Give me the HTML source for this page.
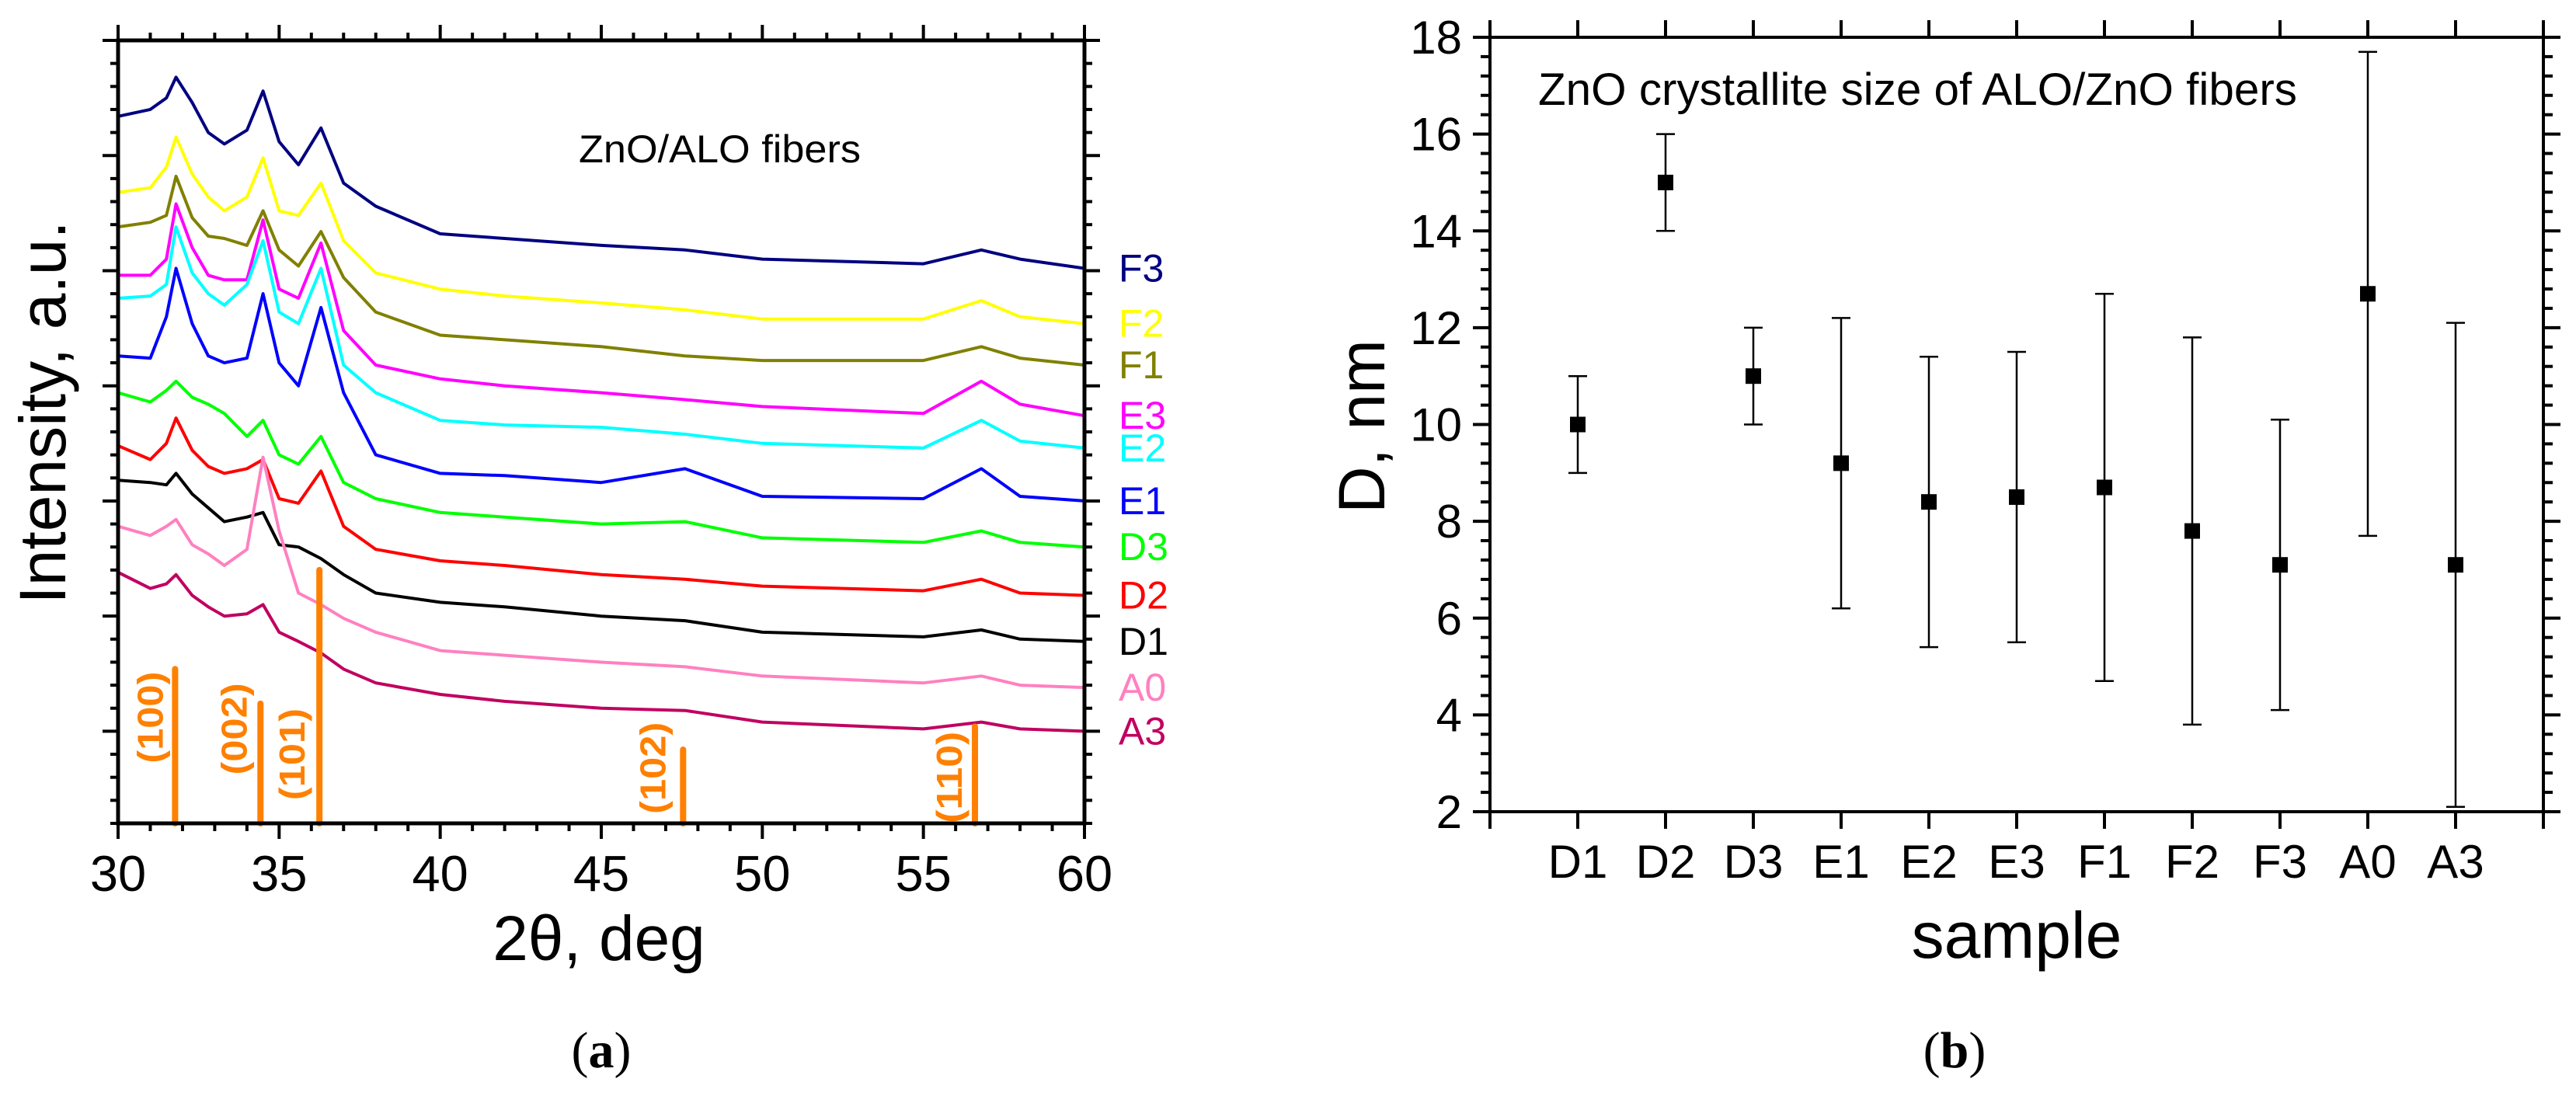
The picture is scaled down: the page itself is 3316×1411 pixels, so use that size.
<!DOCTYPE html>
<html><head><meta charset="utf-8"><style>
html,body{margin:0;padding:0;background:#fff;}
svg{display:block;font-family:"Liberation Sans",Arial,sans-serif;}
</style></head><body>
<svg id="root" width="3316" height="1411" viewBox="0 0 3316 1411" xmlns="http://www.w3.org/2000/svg">
<g id="chartA"></g>
<g id="chartB"></g>
</svg>
<script>
// ---------- Chart (a) data ----------
const sampleNames = ["F3","F2","F1","E3","E2","E1","D3","D2","D1","A0","A3"];
const sampleColors = ["#000080","#ffff00","#808000","#ff00ff","#00ffff","#0000ff","#00ff00","#ff0000","#000000","#ff80c0","#c00060"];
const angles = [30,31,31.5,31.8,32.3,32.8,33.3,34,34.5,35,35.6,36.3,37,38,40,42,45,47.6,50,55,56.8,58,60];
// intensity (a.u.; one minor tick = 1) per series at the angles above
const intF3 = [30.7,31.0,31.5,32.4,31.3,30.0,29.5,30.1,31.8,29.6,28.6,30.2,27.8,26.8,25.6,25.4,25.1,24.9,24.5,24.3,24.9,24.5,24.1];
const intF2 = [27.4,27.6,28.5,29.8,28.2,27.2,26.6,27.2,28.9,26.6,26.4,27.8,25.3,23.9,23.2,22.9,22.6,22.3,21.9,21.9,22.7,22.0,21.7];
const intF1 = [25.9,26.1,26.4,28.1,26.3,25.5,25.4,25.1,26.6,24.9,24.2,25.7,23.7,22.2,21.2,21.0,20.7,20.3,20.1,20.1,20.7,20.2,19.9];
const intE3 = [23.8,23.8,24.5,26.9,25.0,23.8,23.6,23.6,26.2,23.2,22.8,25.2,21.4,19.9,19.3,19.0,18.7,18.4,18.1,17.8,19.2,18.2,17.7];
const intE2 = [22.8,22.9,23.4,25.9,23.9,23.0,22.5,23.4,25.3,22.2,21.7,24.1,19.9,18.7,17.5,17.3,17.2,16.9,16.5,16.3,17.5,16.6,16.3];
const intE1 = [20.3,20.2,22.0,24.1,21.7,20.3,20.0,20.2,23.0,20.0,19.0,22.4,18.7,16.0,15.2,15.1,14.8,15.4,14.2,14.1,15.4,14.2,14.0];
const intD3 = [18.7,18.3,18.8,19.2,18.5,18.2,17.8,16.8,17.5,16.0,15.6,16.8,14.8,14.1,13.5,13.3,13.0,13.1,12.4,12.2,12.7,12.2,12.0];
const intD2 = [16.4,15.8,16.5,17.6,16.2,15.5,15.2,15.4,15.8,14.1,13.9,15.3,12.9,11.9,11.4,11.2,10.8,10.6,10.3,10.1,10.6,10.0,9.9];
const intD1 = [14.9,14.8,14.7,15.2,14.3,13.7,13.1,13.3,13.5,12.1,12.0,11.5,10.8,10.0,9.6,9.4,9.0,8.8,8.3,8.1,8.4,8.0,7.9];
const intA0 = [12.9,12.5,12.9,13.2,12.1,11.7,11.2,11.9,15.9,12.7,10.0,9.5,8.9,8.3,7.5,7.3,7.0,6.8,6.4,6.1,6.4,6.0,5.9];
const intA3 = [10.9,10.2,10.4,10.8,9.9,9.4,9.0,9.1,9.5,8.3,7.9,7.4,6.7,6.1,5.6,5.3,5.0,4.9,4.4,4.1,4.4,4.1,4.0];
const seriesA = [intF3,intF2,intF1,intE3,intE2,intE1,intD3,intD2,intD1,intA0,intA3];
const refLabels = ["(100)","(002)","(101)","(102)","(110)"];
const refAngles = [31.77,34.42,36.25,47.54,56.6];
const refHeights = [6.7,5.2,11.0,3.2,4.2];
const refLabelAngles = [31.0,33.6,35.4,46.6,55.8];
const refLabelCenters = [4.6,4.1,3.0,2.4,2.0];
const xTicksA = [30,35,40,45,50,55,60];

// ---------- Chart (b) data ----------
const categories = ["D1","D2","D3","E1","E2","E3","F1","F2","F3","A0","A3"];
const sizes = [10,15,11,9.2,8.4,8.5,8.7,7.8,7.1,12.7,7.1];
const sizeErr = [1,1,1,3,3,3,4,4,3,5,5];
const yTicksB = [2,4,6,8,10,12,14,16,18];

const NS = "http://www.w3.org/2000/svg";
function mk(parent, tag, attrs, text){
  const e = document.createElementNS(NS, tag);
  for (const k in attrs) e.setAttribute(k, attrs[k]);
  if (text !== undefined) e.textContent = text;
  parent.appendChild(e); return e;
}

// ===== Chart A =====
(function(){
  const g = document.getElementById("chartA");
  const L=152, R=1396, T=52, B=1060, unit=(B-T)/34;
  const xs = v => L + (v-30)/30*(R-L);
  const ys = v => B - v*unit;
  seriesA.forEach((arr,si)=>{
    const pts = angles.map((a,i)=>xs(a).toFixed(1)+","+ys(arr[i]).toFixed(1)).join(" ");
    const pl = mk(g,"polyline",{points:pts,fill:"none",stroke:sampleColors[si],"stroke-width":4,"stroke-linejoin":"round"});
    
    
    const lb = mk(g,"text",{x:1440,y:ys(arr[arr.length-1])+17,"font-size":50,fill:sampleColors[si]},sampleNames[si]);
    
    
  });
  refAngles.forEach((a,i)=>{
    const x = xs(a);
    const ln = mk(g,"line",{x1:x,x2:x,y1:B,y2:ys(refHeights[i]),stroke:"#ff8000","stroke-width":8,"stroke-linecap":"round"});
    
    
    const cx = xs(refLabelAngles[i])+16, cy = ys(refLabelCenters[i]);
    const t = mk(g,"text",{x:cx,y:cy,"font-size":46,"font-weight":"bold",fill:"#ff8000","text-anchor":"middle",textLength:118,lengthAdjust:"spacingAndGlyphs",transform:`rotate(-90 ${cx} ${cy})`},refLabels[i]);
    
    
  });
  const fr = mk(g,"rect",{x:L,y:T,width:R-L,height:B-T,fill:"none",stroke:"#000","stroke-width":5});
  
  
  for(let v=30; v<=60; v++){
    const maj = v%5===0, len = maj?20:10, x=xs(v);
    mk(g,"line",{x1:x,x2:x,y1:B,y2:B+len,stroke:"#000","stroke-width":4});
    mk(g,"line",{x1:x,x2:x,y1:T,y2:T-len,stroke:"#000","stroke-width":4});
  }
  xTicksA.forEach(v=>{
    const t = mk(g,"text",{x:xs(v),y:1147,"font-size":65,"text-anchor":"middle"},String(v));
    
    
  });
  for(let i=0;i<=34;i++){
    const y = ys(i), maj = (34-i)%5===0, len = maj?20:10;
    mk(g,"line",{x1:L,x2:L-len,y1:y,y2:y,stroke:"#000","stroke-width":4});
    mk(g,"line",{x1:R,x2:R+len,y1:y,y2:y,stroke:"#000","stroke-width":4});
  }
  const xt = mk(g,"text",{x:771,y:1236,"font-size":82,"text-anchor":"middle"},"2θ, deg");
  
  
  const yt = mk(g,"text",{x:0,y:0,"font-size":84,"text-anchor":"middle",transform:"translate(84 531) rotate(-90)"},"Intensity, a.u.");
  
  
  const an = mk(g,"text",{x:745,y:209,"font-size":50,textLength:363,lengthAdjust:"spacingAndGlyphs"},"ZnO/ALO fibers");
  
  
  const cap = mk(g,"text",{x:774,y:1374,"font-size":66,"text-anchor":"middle","font-family":"Liberation Serif, serif"});
  cap.innerHTML = '(<tspan font-weight="bold">a</tspan>)';
  
  
})();

// ===== Chart B =====
(function(){
  const g = document.getElementById("chartB");
  const L=1918, R=3274, T=48, B=1045;
  const xs = i => L + i*(R-L)/12;
  const ys = v => B - (v-2)/16*(B-T);
  const fr = mk(g,"rect",{x:L,y:T,width:R-L,height:B-T,fill:"none",stroke:"#000","stroke-width":4});
  
  
  for(let i=0;i<=12;i++){
    const x=xs(i);
    mk(g,"line",{x1:x,x2:x,y1:B,y2:B+22,stroke:"#000","stroke-width":4});
    mk(g,"line",{x1:x,x2:x,y1:T,y2:T-22,stroke:"#000","stroke-width":4});
  }
  for(let k=0;k<=40;k++){
    const v=2+k*0.4, y=ys(v), maj=k%5===0, len=maj?22:12;
    mk(g,"line",{x1:L,x2:L-len,y1:y,y2:y,stroke:"#000","stroke-width":4});
    mk(g,"line",{x1:R,x2:R+len,y1:y,y2:y,stroke:"#000","stroke-width":4});
  }
  yTicksB.forEach(v=>{
    const t = mk(g,"text",{x:1882,y:ys(v)+21,"font-size":60,"text-anchor":"end"},String(v));
    
    
  });
  categories.forEach((c,i)=>{
    const x = xs(i+1);
    const t = mk(g,"text",{x:x,y:1130,"font-size":60,"text-anchor":"middle"},c);
    
    
    const lo = ys(sizes[i]-sizeErr[i]), hi = ys(sizes[i]+sizeErr[i]);
    const eb = mk(g,"path",{d:`M${x},${lo}V${hi}M${x-12},${lo}H${x+12}M${x-12},${hi}H${x+12}`,stroke:"#000","stroke-width":2.5,fill:"none"});
    
    
    const m = mk(g,"rect",{x:x-10,y:ys(sizes[i])-10,width:20,height:20,fill:"#000"});
    
    
  });
  const xt = mk(g,"text",{x:2596,y:1233,"font-size":84,"text-anchor":"middle"},"sample");
  
  
  const yt = mk(g,"text",{x:0,y:0,"font-size":84,"text-anchor":"middle",transform:"translate(1782 549) rotate(-90)"},"D, nm");
  
  
  const an = mk(g,"text",{x:1980,y:135,"font-size":58,textLength:977,lengthAdjust:"spacingAndGlyphs"},"ZnO crystallite size of ALO/ZnO fibers");
  
  
  const cap = mk(g,"text",{x:2516,y:1374,"font-size":66,"text-anchor":"middle","font-family":"Liberation Serif, serif"});
  cap.innerHTML = '(<tspan font-weight="bold">b</tspan>)';
  
  
})();
</script>
</body></html>
